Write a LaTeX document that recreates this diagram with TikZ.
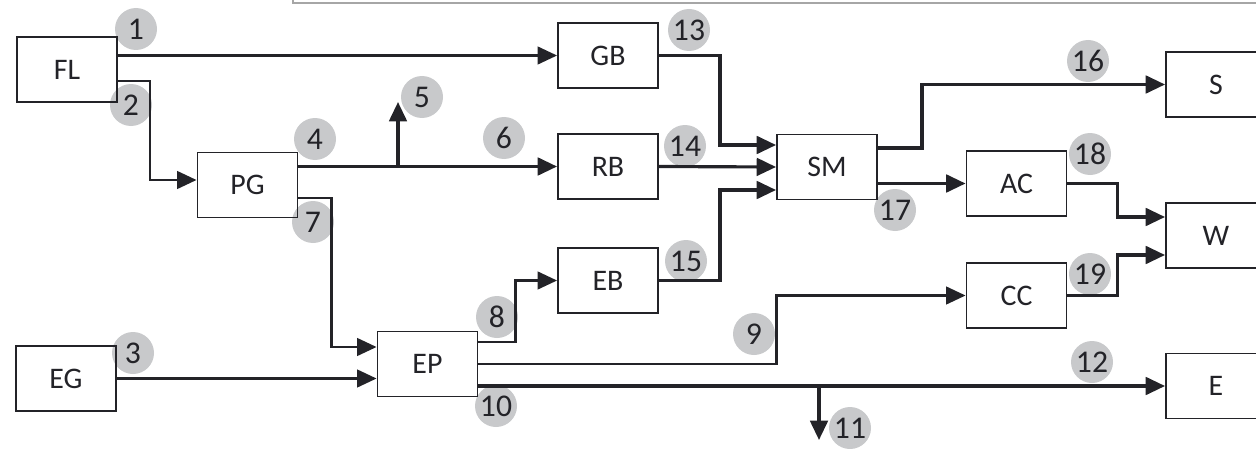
\documentclass[tikz,border=0pt]{standalone}
\usepackage{fontspec}
\setmainfont{Carlito}
\usetikzlibrary{arrows.meta, positioning}
\definecolor{tagGray}{RGB}{200,201,203}
\definecolor{inkDark}{RGB}{35,35,40}

\begin{document}
\begin{tikzpicture}[>=Stealth]
    \tikzset{
        blk/.style={draw=inkDark, line width=1.1pt, minimum width=2cm, minimum height=1.3cm,
            inner sep=0pt, text=inkDark, font=\fontsize{17}{19}\selectfont},
        flow/.style={draw=inkDark, line width=1.3pt, -{Triangle[length=11pt, width=10pt]}},
        heavy/.style={flow, line width=1.8pt},
        tag/.style={circle, fill=tagGray, minimum size=0.84cm, inner sep=0pt,
            text=inkDark, font=\fontsize{18}{20}\selectfont},
    }
    \useasboundingbox (0,0) rectangle (25.12,-8.98);
    \draw[gray!70, line width=0.8pt] (5.86,0.3) |- (25.5,-0.06);

    \node[tag] (t1) at (2.72,-0.58) {1};
    \node[tag] (t2) at (2.62,-2.10) {2};
    \node[tag] (t3) at (2.66,-7.06) {3};
    \node[tag] (t4) at (6.30,-2.78) {4};
    \node[tag] (t5) at (8.44,-1.94) {5};
    \node[tag] (t6) at (10.08,-2.76) {6};
    \node[tag] (t7) at (6.26,-4.44) {7};
    \node[tag] (t8) at (9.94,-6.34) {8};
    \node[tag] (t9) at (15.08,-6.68) {9};
    \node[tag] (t10) at (9.92,-8.12) {10};
    \node[tag] (t11) at (17.00,-8.56) {11};
    \node[tag] (t12) at (21.84,-7.24) {12};
    \node[tag] (t13) at (13.78,-0.60) {13};
    \node[tag] (t14) at (13.70,-2.92) {14};
    \node[tag] (t15) at (13.72,-5.22) {15};
    \node[tag] (t16) at (21.76,-1.22) {16};
    \node[tag] (t17) at (17.90,-4.20) {17};
    \node[tag] (t18) at (21.80,-3.08) {18};
    \node[tag] (t19) at (21.80,-5.48) {19};

    \node[blk] (FL) at (1.34,-1.39) {FL};
    \node[blk] (GB) at (12.16,-1.11) {GB};
    \node[blk] (PG) at (4.95,-3.70) {PG};
    \node[blk] (RB) at (12.16,-3.33) {RB};
    \node[blk] (SM) at (16.54,-3.34) {SM};
    \node[blk] (EB) at (12.16,-5.61) {EB};
    \node[blk] (EP) at (8.55,-7.28) {EP};
    \node[blk] (EG) at (1.32,-7.57) {EG};
    \node[blk] (AC) at (20.33,-3.67) {AC};
    \node[blk] (CC) at (20.33,-5.91) {CC};
    \node[blk] (S) at (24.32,-1.69) {S};
    \node[blk] (W) at (24.32,-4.71) {W};
    \node[blk] (E) at (24.32,-7.72) {E};
    \coordinate (out5) at (7.96,-2.04);
    \coordinate (out11) at (16.38,-8.80);

    \draw[flow] (FL.east |- GB.west) -- (GB.west);
    \draw[flow] ([yshift=-0.23cm]FL.east) -- ++(0.64,0) |- ([yshift=0.1cm]PG.west);
    \draw[flow] (EG.east) -- (EG.east -| EP.west);
    \draw[heavy] (PG.east |- RB.west) -- (RB.west);
    \draw[heavy] (out5 |- RB.west) -- (out5);
    \draw[flow] ([yshift=-0.26cm]PG.east) -- ++(0.66,0) |- ([yshift=0.34cm]EP.west);
    \draw[flow] ([yshift=0.44cm]EP.east) -- ++(0.74,0) |- (EB.west);
    \draw[flow] (EP.east) -- ++(5.96,0) |- (CC.west);
    \draw[heavy] (EP.east |- E.west) -- (E.west);
    \draw[heavy] (out11 |- E.west) -- (out11);
    \draw[heavy] (GB.east) -- ++(1.22,0) |- ([yshift=0.44cm]SM.west);
    \draw[heavy] (RB.east) -- (SM.west);
    \draw[heavy] (EB.east) -- ++(1.22,0) |- ([yshift=-0.46cm]SM.west);
    \draw[heavy] ([yshift=0.38cm]SM.east) -- ++(0.88,0) |- (S.west);
    \draw[heavy] (SM.east |- AC.west) -- (AC.west);
    \draw[heavy] (AC.east) -- ++(1,0) |- ([yshift=0.37cm]W.west);
    \draw[heavy] (CC.east) -- ++(1,0) |- ([yshift=-0.39cm]W.west);
\end{tikzpicture}
\end{document}
